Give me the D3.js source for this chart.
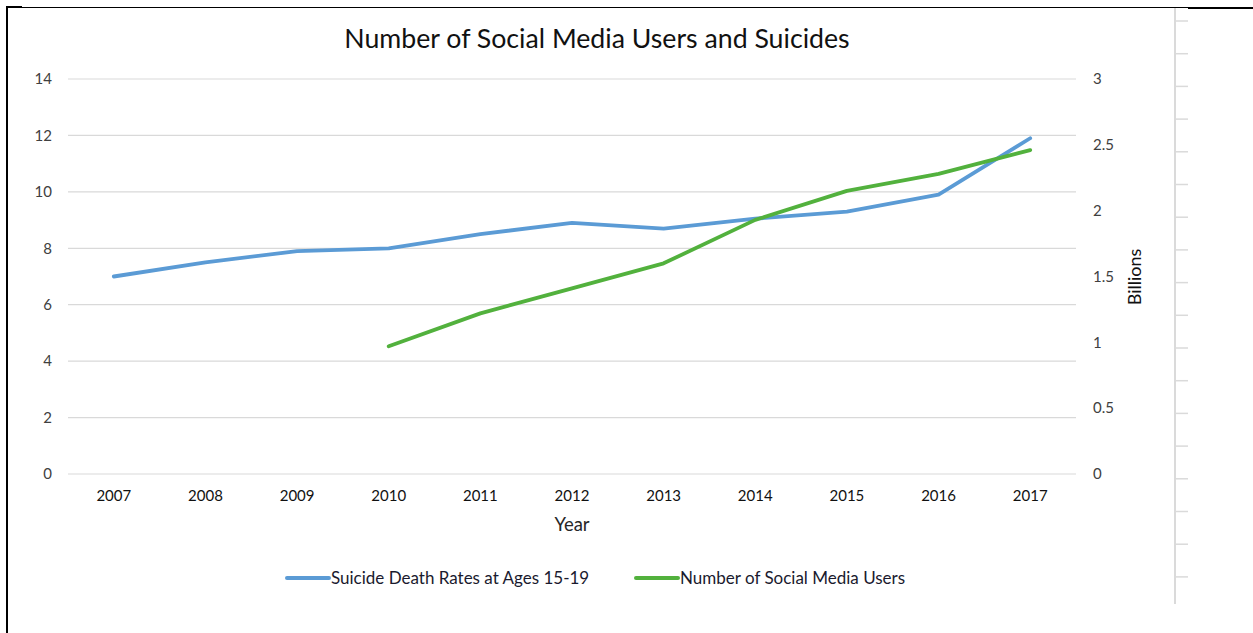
<!DOCTYPE html>
<html>
<head>
<meta charset="utf-8">
<script src="https://cdn.jsdelivr.net/npm/d3@7"></script>
<style>
  body { margin: 0; background: #fff; }
  svg { display: block; font-family: Lato, "Open Sans", sans-serif; }
</style>
</head>
<body>
<div id="chart"></div>
<script>
const years = [2007, 2008, 2009, 2010, 2011, 2012, 2013, 2014, 2015, 2016, 2017];
const suicideRates = [7.0, 7.5, 7.9, 8.0, 8.5, 8.9, 8.7, 9.05, 9.3, 9.9, 11.9];
const socialUsers = [null, null, null, 0.97, 1.22, 1.41, 1.6, 1.93, 2.15, 2.28, 2.46];
const leftTicks = [0, 2, 4, 6, 8, 10, 12, 14];
const rightTicks = [0, 0.5, 1, 1.5, 2, 2.5, 3];

const W = 1253, H = 633;
const margin = { top: 79, right: 177, bottom: 159, left: 68 };
const width = W - margin.left - margin.right;
const height = H - margin.top - margin.bottom;

const blue = "#5b9bd5", green = "#52b13d";

const root = d3.select("#chart").append("svg")
    .attr("width", W)
    .attr("height", H);

// page frame bits
root.append("line").attr("x1", 7).attr("y1", 6).attr("x2", 7).attr("y2", H)
    .attr("stroke", "#000").attr("stroke-width", 2);
root.append("line").attr("x1", 6).attr("y1", 7).attr("x2", 22).attr("y2", 7)
    .attr("stroke", "#000").attr("stroke-width", 2);
root.append("line").attr("x1", 22).attr("y1", 7.5).attr("x2", 1188).attr("y2", 7.5)
    .attr("stroke", "#000").attr("stroke-width", 1);
root.append("line").attr("x1", 1188).attr("y1", 8).attr("x2", W).attr("y2", 8)
    .attr("stroke", "#000").attr("stroke-width", 2);
root.append("line").attr("x1", 1175).attr("y1", 8).attr("x2", 1175).attr("y2", 604)
    .attr("stroke", "#dadada").attr("stroke-width", 2);
root.append("g").selectAll("line")
    .data(d3.range(18))
    .enter().append("line")
    .attr("x1", 1175).attr("x2", 1188)
    .attr("y1", i => 21 + i * 32.7).attr("y2", i => 21 + i * 32.7)
    .attr("stroke", "#dadada").attr("stroke-width", 1.5);

const svg = root.append("g")
    .attr("transform", "translate(" + margin.left + "," + margin.top + ")");

// scales
const x = d3.scaleBand().domain(years).range([0, width]);
const yL = d3.scaleLinear().domain([0, 14]).range([height, 0]);
const yR = d3.scaleLinear().domain([0, 3]).range([height, 0]);
const cx = d => x(d) + x.bandwidth() / 2;

// gridlines
svg.append("g").selectAll("line")
    .data(leftTicks)
    .enter().append("line")
    .attr("x1", 0).attr("x2", width)
    .attr("y1", d => yL(d)).attr("y2", d => yL(d))
    .attr("stroke", "#d9d9d9").attr("stroke-width", 1.2);

// left axis
const axL = svg.append("g")
    .call(d3.axisLeft(yL).tickValues(leftTicks).tickSize(0).tickPadding(16));
axL.select(".domain").remove();
axL.selectAll("text").attr("fill", "#404040").style("font-size", "15px")
    .style("font-family", "Lato, sans-serif");

// right axis
const axR = svg.append("g")
    .attr("transform", "translate(" + width + ",0)")
    .call(d3.axisRight(yR).tickValues(rightTicks).tickSize(0).tickPadding(17).tickFormat(d3.format("")));
axR.select(".domain").remove();
axR.selectAll("text").attr("fill", "#404040").style("font-size", "15px")
    .style("font-family", "Lato, sans-serif");

// x axis
const axX = svg.append("g")
    .attr("transform", "translate(0," + height + ")")
    .call(d3.axisBottom(x).tickSize(0).tickPadding(16));
axX.select(".domain").remove();
axX.selectAll("text").attr("fill", "#111").style("font-size", "15px")
    .style("font-family", "Lato, sans-serif");

// lines
const rows = years.map((yr, i) => ({ year: yr, rate: suicideRates[i], users: socialUsers[i] }));
svg.append("path")
    .datum(rows)
    .attr("fill", "none")
    .attr("stroke", blue)
    .attr("stroke-width", 3.8)
    .attr("stroke-linejoin", "round")
    .attr("stroke-linecap", "round")
    .attr("d", d3.line().x(d => cx(d.year)).y(d => yL(d.rate)));
svg.append("path")
    .datum(rows.filter(d => d.users != null))
    .attr("fill", "none")
    .attr("stroke", green)
    .attr("stroke-width", 3.8)
    .attr("stroke-linejoin", "round")
    .attr("stroke-linecap", "round")
    .attr("d", d3.line().x(d => cx(d.year)).y(d => yR(d.users)));

// titles
root.append("text")
    .attr("x", 597).attr("y", 48)
    .attr("text-anchor", "middle")
    .attr("fill", "#111")
    .style("font-size", "26.7px")
    .text("Number of Social Media Users and Suicides");
root.append("text")
    .attr("x", margin.left + width / 2).attr("y", 531)
    .attr("text-anchor", "middle")
    .attr("fill", "#262626")
    .style("font-size", "18.5px")
    .text("Year");
root.append("text")
    .attr("transform", "translate(1141,277)rotate(-90)")
    .attr("text-anchor", "middle")
    .attr("fill", "#111")
    .style("font-size", "18px")
    .text("Billions");

// legend
const legendItems = [
    { name: "Suicide Death Rates at Ages 15-19", color: blue, x: 287 },
    { name: "Number of Social Media Users", color: green, x: 636 }
];
const legend = root.append("g").attr("transform", "translate(0,578)");
const items = legend.selectAll("g").data(legendItems).enter().append("g")
    .attr("transform", d => "translate(" + d.x + ",0)");
items.append("line")
    .attr("x1", 0).attr("x2", 42).attr("y1", 0).attr("y2", 0)
    .attr("stroke", d => d.color).attr("stroke-width", 4)
    .attr("stroke-linecap", "round");
items.append("text")
    .attr("x", 44).attr("y", 6)
    .attr("fill", "#1a1a2e")
    .style("font-size", "17px")
    .text(d => d.name);
</script>
</body>
</html>
